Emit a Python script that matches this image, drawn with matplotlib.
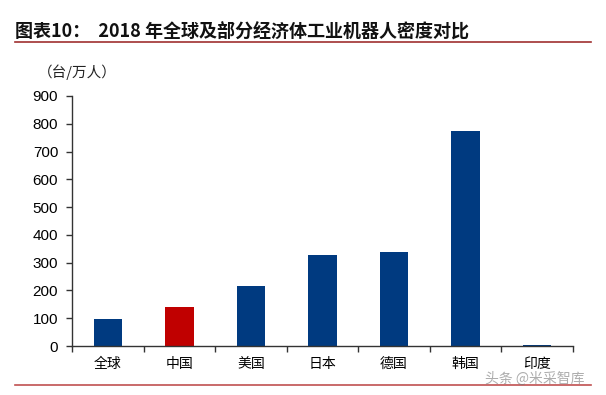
import numpy as np
import matplotlib.pyplot as plt
from matplotlib.lines import Line2D

plt.rcParams['font.family'] = ['Noto Sans CJK SC', 'DejaVu Sans']

# robot density 2018, units per 10k employees
regions = ['全球', '中国', '美国', '日本', '德国', '韩国', '印度']
density = [99, 140, 217, 327, 338, 774, 4]
colors = ['#003A80', '#C00000', '#003A80', '#003A80', '#003A80', '#003A80', '#003A80']

fig = plt.figure(figsize=(6.06, 3.95), dpi=100)
ax = fig.add_axes([0.119, 0.124, 0.826, 0.633])

x = np.arange(len(regions))
ax.bar(x, density, width=0.4, color=colors)

ax.set_xlim(-0.5, len(regions) - 0.5)
ax.set_ylim(0, 900)
ax.set_yticks(range(0, 901, 100))
ax.set_yticklabels([str(v) for v in range(0, 901, 100)],
                   family=['Liberation Sans', 'DejaVu Sans'], fontsize=11)
ax.set_xticks(x)
ax.set_xticklabels(regions, fontsize=10)
ax.tick_params(axis='x', length=0, pad=8)
ax.set_xticks(np.arange(-0.5, len(regions)), minor=True)
ax.tick_params(axis='x', which='minor', length=4, width=1, color='#333333', direction='out')
ax.tick_params(axis='y', length=4, width=1, color='#333333', direction='out', pad=6)

for s in ['top', 'right']:
    ax.spines[s].set_visible(False)
for s in ['left', 'bottom']:
    ax.spines[s].set_color('#333333')
    ax.spines[s].set_linewidth(1)

fig.text(0.025, 0.922, '图表10：  2018 年全球及部分经济体工业机器人密度对比',
         fontsize=13, fontweight='bold', color='#111111', va='center')
fig.add_artist(Line2D([0.025, 0.975], [0.893, 0.893], color='#A03030', lw=1.2))
fig.add_artist(Line2D([0.025, 0.975], [0.026, 0.026], color='#C05050', lw=1.2))
fig.text(0.062, 0.818, '（台/万人）', fontsize=10.5, color='#222222', va='center')
# watermark sits just above the bottom rule
fig.text(0.80, 0.040, '头条 @米采智库', fontsize=10, color='#777777', alpha=0.6, va='center')

fig.savefig('out.png', dpi=100)
